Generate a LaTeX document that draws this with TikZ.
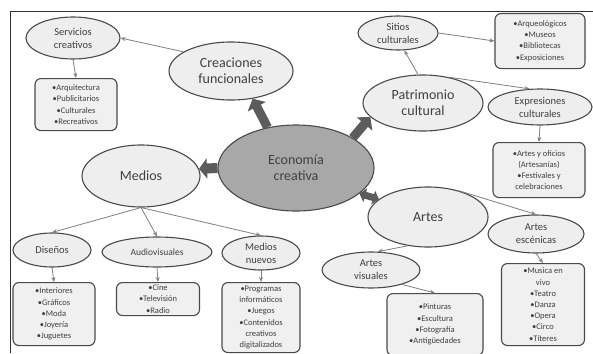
\documentclass[tikz,border=0pt]{standalone}
\usepackage{fontspec}
\setmainfont{Carlito}
\usetikzlibrary{shapes.geometric,arrows.meta}
\definecolor{lineg}{HTML}{4A4A4A}
\definecolor{ellfill}{HTML}{EEEEEE}
\definecolor{boxfill}{HTML}{F0F0F0}
\definecolor{ecofill}{HTML}{A8A8A8}
\definecolor{blockg}{HTML}{5C5C5C}
\definecolor{thin}{HTML}{808080}
\tikzset{
  ell/.style={ellipse, draw=lineg, line width=1.1pt, fill=ellfill, inner sep=0pt, align=center, text=black!75},
  bigl/.style={font=\fontsize{14}{16}\selectfont},
  smalll/.style={font=\fontsize{10.5}{13}\selectfont},
  itembox/.style={draw=lineg, line width=1.1pt, fill=boxfill, rounded corners=6pt, inner sep=2pt, align=center, text=black!75, font=\fontsize{8.5}{11.2}\selectfont, anchor=north},
  conn/.style={draw=thin, line width=0.8pt, -{Stealth[length=5pt,width=4pt]}},
  blockarrow/.style={draw=blockg, line width=9pt, -{Triangle[length=9pt,width=20pt]}},
}
\begin{document}
\begin{tikzpicture}[x=1pt,y=-1pt]
\useasboundingbox (0,0) rectangle (593,353);
\fill[white] (0,0) rectangle (593,353);
\draw[line width=1pt, black!80] (10,353) -- (10,12) -- (593,12);

% ellipses
\node[ell, bigl, minimum width=124pt, minimum height=58pt] (cre) at (231,71) {Creaciones\\funcionales};
\node[ell, smalll, minimum width=94pt, minimum height=42pt] (ser) at (73,38) {Servicios\\creativos};
\node[ell, bigl, minimum width=156pt, minimum height=86pt, fill=ecofill] (eco) at (296,168) {Economía\\creativa};
\node[ell, bigl, minimum width=118pt, minimum height=62pt] (med) at (141,176) {Medios};
\node[ell, smalll, minimum width=78pt, minimum height=34pt] (dis) at (52,250) {Diseños};
\node[ell, smalll, font=\fontsize{9.5}{12}\selectfont, minimum width=110pt, minimum height=30pt] (aud) at (157,252) {Audiovisuales};
\node[ell, smalll, minimum width=78pt, minimum height=34pt] (mnu) at (261,253) {Medios\\nuevos};
\node[ell, smalll, minimum width=80pt, minimum height=34pt] (sit) at (398,33) {Sitios\\culturales};
\node[ell, bigl, minimum width=120pt, minimum height=56pt] (pat) at (423,103) {Patrimonio\\cultural};
\node[ell, smalll, minimum width=104pt, minimum height=36pt] (exp) at (540,107) {Expresiones\\culturales};
\node[ell, bigl, minimum width=120pt, minimum height=60pt] (art) at (428,217) {Artes};
\node[ell, smalll, minimum width=96pt, minimum height=38pt] (esc) at (536,234) {Artes\\escénicas};
\node[ell, smalll, minimum width=98pt, minimum height=36pt] (vis) at (371,270) {Artes\\visuales};

% boxes
\node[itembox, minimum width=82pt, minimum height=52pt] (bser) at (76,78) {•Arquitectura\\•Publicitarios\\•Culturales\\•Recreativos};
\node[itembox, minimum width=90pt, minimum height=55pt] (bsit) at (540,13) {•Arqueológicos\\•Museos\\•Bibliotecas\\•Exposiciones};
\node[itembox, minimum width=92pt, minimum height=55pt] (bexp) at (539,142) {•Artes y oficios\\(Artesanías)\\•Festivales y\\celebraciones};
\node[itembox, minimum width=82pt, minimum height=63pt] (bdis) at (54,282) {•Interiores\\•Gráficos\\•Moda\\•Joyería\\•Juguetes};
\node[itembox, minimum width=83pt, minimum height=33pt] (baud) at (158,282) {•Cine\\•Televisión\\•Radio};
\node[itembox, minimum width=78pt, minimum height=70pt] (bmnu) at (261,282) {•Programas\\informáticos\\•Juegos\\•Contenidos\\creativos\\digitalizados};
\node[itembox, minimum width=96pt, minimum height=62pt] (bvis) at (435,293) {•Pinturas\\•Escultura\\•Fotografía\\•Antigüedades};
\node[itembox, minimum width=83pt, minimum height=82pt] (besc) at (543,263) {•Musica en\\vivo\\•Teatro\\•Danza\\•Opera\\•Circo\\•Títeres};

% block arrows from the centre
\draw[blockarrow] (eco.125) -- (cre.-52);
\draw[blockarrow, line width=10pt, -{Triangle[length=8pt,width=20pt]}] (eco.west) -- (med.7);
\draw[blockarrow] (eco.28) -- (pat.195);
\draw[blockarrow, line width=7pt, {Triangle[length=6pt,width=14pt]}-{Triangle[length=6pt,width=14pt]}] (eco.-22) -- (art.160);

% thin connectors
\draw[conn] (cre.158) -- (ser.east);
\draw[conn] (ser.south) -- (bser.north);
\draw[conn] (med.south) -- (dis.north);
\draw[conn] (med.south) -- (aud.north);
\draw[conn] (med.south) -- (mnu.north);
\draw[conn] (dis.south) -- (bdis.north);
\draw[conn] (aud.south) -- (baud.north);
\draw[conn] (mnu.south) -- (bmnu.north);
\draw[conn] (pat.100) -- (sit.-70);
\draw[conn] (sit.east) -- (bsit.west);
\draw[conn] (pat.45) -- (exp.120);
\draw[conn] (exp.south) -- (bexp.north);
\draw[conn] (art.40) -- (esc.north);
\draw[conn] (art.235) -- (vis.70);
\draw[conn] (vis.-25) -- (bvis.north);
\draw[conn] (esc.south) -- (besc.north);
\end{tikzpicture}
\end{document}
